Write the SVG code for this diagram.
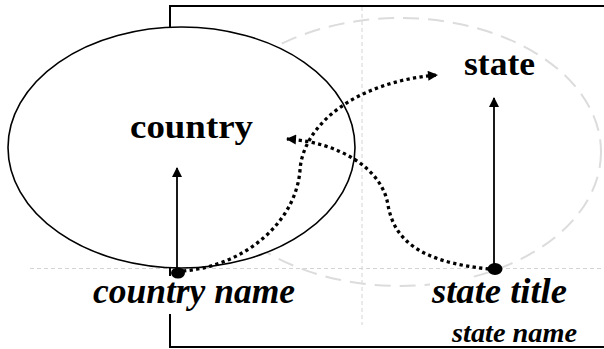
<svg xmlns="http://www.w3.org/2000/svg" width="604" height="349" viewBox="0 0 604 349">
<style>
.guide{fill:none;stroke:#d4d4d4;stroke-width:1;stroke-dasharray:4 3}
.ghost{fill:none;stroke:#dcdcdc;stroke-width:2;stroke-dasharray:16 9}
.frame{fill:none;stroke:#000;stroke-width:2}
.ent{fill:#fff;stroke:#000;stroke-width:1.6}
.lbl{font-family:"Liberation Serif","Times New Roman",serif;font-weight:bold;fill:#000}
.it{font-style:italic}
.bg{fill:#fff;stroke:none}
.solid{fill:none;stroke:#000;stroke-width:1.8}
.dot{fill:none;stroke:#000;stroke-width:3.3;stroke-dasharray:3.3 3.3}
.pt{fill:#000}
</style>
<defs>
<marker id="ah" viewBox="0 0 10 10" refX="9" refY="5" markerWidth="12" markerHeight="10" markerUnits="userSpaceOnUse" orient="auto">
<path d="M0,0 L10,5 L0,10 Z" fill="#000"/>
</marker>
</defs>
<g id="guides">
<line class="guide" x1="362" y1="7" x2="362" y2="325"/>
<line class="guide" x1="30" y1="268.5" x2="604" y2="268.5"/>
<ellipse class="ghost" cx="400" cy="152" rx="201" ry="134"/>
</g>
<g id="frame">
<rect class="frame" x="170" y="6" width="450" height="341"/>
</g>
<g id="country">
<ellipse class="ent" cx="181.5" cy="147.5" rx="173.5" ry="120.5"/>
<text class="lbl" x="130" y="138" font-size="34" textLength="123" lengthAdjust="spacingAndGlyphs">country</text>
</g>
<g id="state">
<text class="lbl" x="464" y="75" font-size="34" textLength="71" lengthAdjust="spacingAndGlyphs">state</text>
</g>
<g id="country-name">
<rect class="bg" x="90" y="276" width="210" height="38"/>
<text class="lbl it" x="93" y="303" font-size="35" textLength="202" lengthAdjust="spacingAndGlyphs">country name</text>
</g>
<g id="state-title">
<rect class="bg" x="430" y="278" width="140" height="33"/>
<text class="lbl it" x="432" y="303" font-size="35" textLength="135" lengthAdjust="spacingAndGlyphs">state title</text>
</g>
<g id="state-name">
<text class="lbl it" x="452" y="342" font-size="27" textLength="125" lengthAdjust="spacingAndGlyphs">state name</text>
</g>
<g id="connectors">
<line class="solid" x1="177" y1="272" x2="177" y2="168" marker-end="url(#ah)"/>
<line class="solid" x1="494" y1="269" x2="494" y2="98" marker-end="url(#ah)"/>
<path class="dot" d="M183,271 C245,266 296,222 300,170 C303,125 355,82 437,75" marker-end="url(#ah)"/>
<path class="dot" d="M489,269 C420,262 394,240 388,205 C382,168 338,142 287,139" marker-end="url(#ah)"/>
<ellipse class="pt" cx="178" cy="273" rx="7" ry="5.5"/>
<ellipse class="pt" cx="495" cy="269" rx="7.5" ry="6"/>
</g>
</svg>
